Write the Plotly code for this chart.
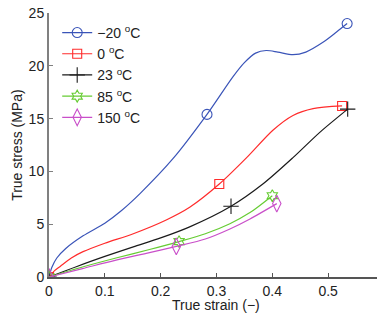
import plotly.graph_objects as go

labels = ["−20 <sup>o</sup>C", "0 <sup>o</sup>C", "23 <sup>o</sup>C", "85 <sup>o</sup>C", "150 <sup>o</sup>C"]
colors = ["#3a54b8", "#ff2b2b", "#1a1a1a", "#66cc33", "#c94fc9"]
symbols = ["circle-open", "square-open", "cross-thin-open", "hexagram-open", "diamond-tall-open"]
msizes = [10, 9, 11, 9, 12]

x_m20 = [0, 0.005, 0.014, 0.03, 0.061, 0.1, 0.13, 0.163, 0.222, 0.283, 0.33, 0.35, 0.37, 0.389, 0.41, 0.437, 0.46, 0.49, 0.515, 0.534]
y_m20 = [0, 0.9, 1.8, 2.7, 3.9, 5.1, 6.3, 7.9, 11.2, 15.4, 19.0, 20.3, 21.2, 21.45, 21.3, 21.05, 21.3, 22.2, 23.2, 24.0]
x_0 = [0, 0.01, 0.02, 0.04, 0.061, 0.1, 0.151, 0.21, 0.252, 0.305, 0.354, 0.401, 0.437, 0.473, 0.525]
y_0 = [0, 0.6, 1.0, 1.8, 2.4, 3.2, 4.1, 5.4, 6.6, 8.8, 11.3, 13.9, 15.3, 15.95, 16.2]
x_23 = [0, 0.05, 0.1, 0.151, 0.2, 0.252, 0.326, 0.383, 0.437, 0.485, 0.535]
y_23 = [0, 1.0, 1.95, 2.85, 3.7, 4.75, 6.7, 8.8, 11.3, 13.7, 15.9]
x_85 = [0, 0.06, 0.12, 0.18, 0.233, 0.28, 0.324, 0.36, 0.40]
y_85 = [0, 0.95, 1.8, 2.6, 3.35, 4.1, 5.05, 6.1, 7.7]
x_150 = [0, 0.06, 0.12, 0.18, 0.228, 0.28, 0.324, 0.36, 0.408]
y_150 = [0, 0.8, 1.6, 2.3, 2.9, 3.6, 4.55, 5.5, 6.95]

# indices of points that carry a marker
marker_idx = [[0, 9, 19], [0, 9, 14], [0, 6, 10], [0, 4, 8], [0, 4, 8]]

series_x = [x_m20, x_0, x_23, x_85, x_150]
series_y = [y_m20, y_0, y_23, y_85, y_150]

x_ticks = [0, 0.1, 0.2, 0.3, 0.4, 0.5]
y_ticks = [0, 5, 10, 15, 20, 25]

fig = go.Figure()
for i in range(5):
    xs, ys = series_x[i], series_y[i]
    fig.add_trace(go.Scatter(x=xs, y=ys, mode="lines", line=dict(color=colors[i], width=1.2, shape="spline", smoothing=0.8),
                             showlegend=False, hoverinfo="skip"))
    fig.add_trace(go.Scatter(x=[xs[k] for k in marker_idx[i]], y=[ys[k] for k in marker_idx[i]], mode="markers",
                             marker=dict(symbol=symbols[i], size=msizes[i], color=colors[i], line=dict(width=1.1, color=colors[i])),
                             showlegend=False))
    fig.add_trace(go.Scatter(x=[None], y=[None], mode="lines+markers", name=labels[i],
                             line=dict(color=colors[i], width=1.2),
                             marker=dict(symbol=symbols[i], size=msizes[i], color=colors[i], line=dict(width=1.1, color=colors[i]))))

fnt = "Liberation Sans, Arial, sans-serif"
fig.update_layout(
    width=377, height=320,
    margin=dict(l=49, r=0, t=13, b=43),
    paper_bgcolor="white", plot_bgcolor="white",
    font=dict(family=fnt, size=14, color="#222"),
    xaxis=dict(range=[0, 0.5875], tickvals=x_ticks, ticktext=[str(v) for v in x_ticks], ticks="inside", ticklen=4,
               tickcolor="#555", showline=True, linecolor="#555", linewidth=1.5, showgrid=False, zeroline=False,
               tickfont=dict(size=14)),
    yaxis=dict(range=[0, 25], tickvals=y_ticks, ticks="inside", ticklen=4, tickcolor="#808080",
               showline=True, linecolor="#808080", linewidth=2, showgrid=False, zeroline=False,
               tickfont=dict(size=14)),
    legend=dict(x=0.025, y=0.985, xanchor="left", yanchor="top", bgcolor="rgba(0,0,0,0)",
                font=dict(size=14, family=fnt), tracegroupgap=0),
    annotations=[
        dict(text="True strain (−)", xref="x", yref="paper", x=0.3, y=0, yshift=-28, yanchor="middle",
             showarrow=False, font=dict(size=14)),
        dict(text="True stress (MPa)", xref="paper", yref="paper", x=-0.098, y=0.5, textangle=-90,
             xanchor="center", yanchor="middle", showarrow=False, font=dict(size=14)),
    ],
)
fig.write_html("out.html")
